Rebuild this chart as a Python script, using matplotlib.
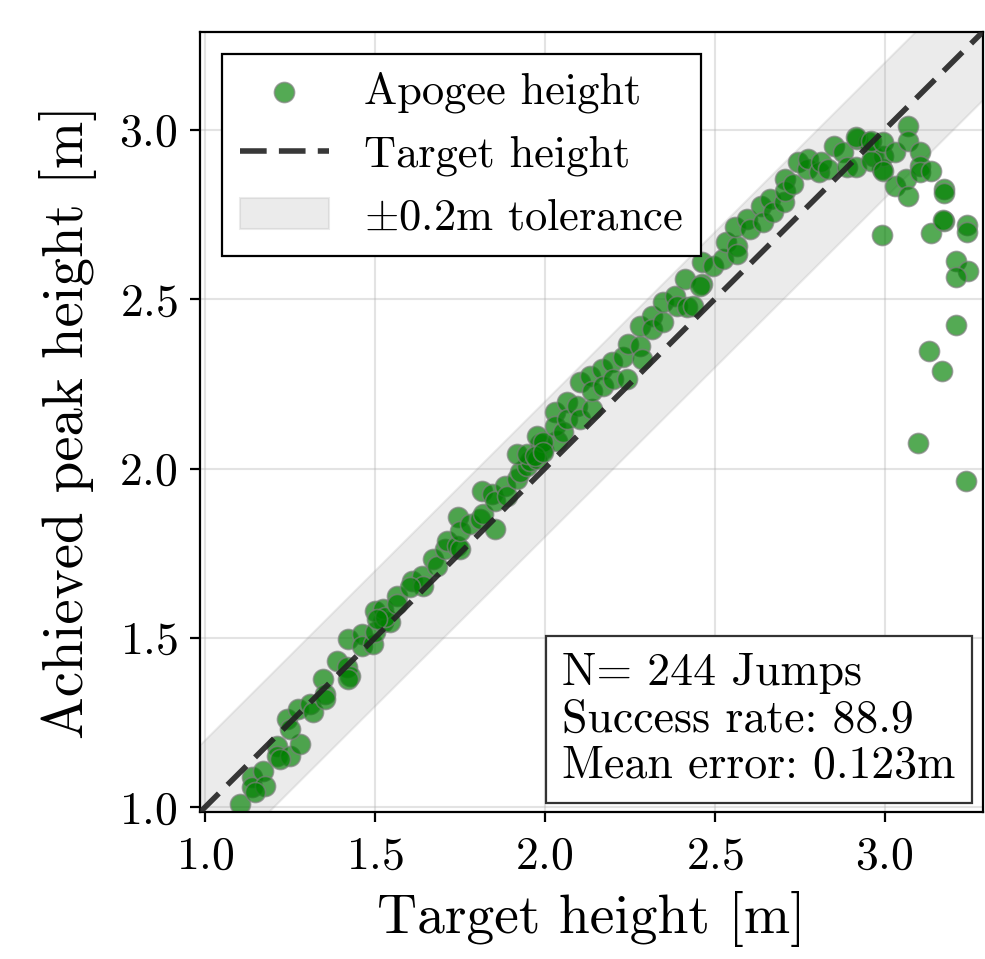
import numpy as np
import matplotlib
matplotlib.use("Agg")
import matplotlib.pyplot as plt

# computer-modern look without LaTeX
plt.rcParams['font.family'] = 'serif'
plt.rcParams['font.serif'] = ['cmr10']
plt.rcParams['mathtext.fontset'] = 'cm'
plt.rcParams['axes.formatter.use_mathtext'] = True

# target heights [m]
target = [
    1.103, 1.138, 1.138, 1.171, 1.177, 1.147,
    1.212, 1.212, 1.250, 1.280, 1.242, 1.221,
    1.274, 1.250, 1.309, 1.318,
    1.348, 1.353, 1.353,
    1.389, 1.418, 1.427, 1.421,
    1.421, 1.462, 1.462, 1.495, 1.501, 1.524, 1.545,
    1.501, 1.524, 1.530, 1.566, 1.566, 1.507,
    1.610, 1.639, 1.642, 1.604,
    1.672, 1.683, 1.707, 1.713, 1.742, 1.751,
    1.745, 1.751, 1.781, 1.810, 1.854, 1.819,
    1.816, 1.845, 1.854, 1.884, 1.890,
    1.919, 1.928, 1.948, 1.957,
    1.919, 1.948, 1.987, 1.996, 2.037, 1.978,
    1.978, 1.996, 1.972, 1.996,
    2.031, 2.031, 2.054, 2.066, 2.066, 2.096, 2.105, 2.140,
    2.105, 2.134, 2.140, 2.169, 2.172, 2.199, 2.202, 2.231, 2.243,
    2.246, 2.281, 2.287, 2.281, 2.317, 2.317, 2.349,
    2.349, 2.384, 2.390, 2.420, 2.414, 2.464,
    2.437, 2.458, 2.464, 2.496, 2.526, 2.532, 2.567, 2.567,
    2.561, 2.596, 2.605, 2.635, 2.641, 2.664, 2.673,
    2.703, 2.708, 2.708, 2.732, 2.744, 2.773, 2.776, 2.806, 2.812,
    2.835, 2.850, 2.879, 2.891, 2.920, 2.950, 2.965, 2.994, 2.997,
    2.915, 2.915, 2.959, 2.959, 2.997, 2.997,
    3.032, 3.032, 3.062, 3.068, 3.068, 3.068,
    3.103, 3.103, 3.103, 3.138, 3.174, 3.174,
    3.138, 3.174, 3.171, 3.244, 3.244,
    3.209, 3.247, 3.209,
    2.994, 3.100, 3.132, 3.168, 3.209, 3.241,
]

# achieved apogee heights [m]
apogee = [
    1.009, 1.089, 1.059, 1.106, 1.062, 1.044,
    1.180, 1.151, 1.151, 1.186, 1.260, 1.142,
    1.290, 1.230, 1.304, 1.281,
    1.378, 1.334, 1.319,
    1.431, 1.414, 1.387, 1.378,
    1.496, 1.511, 1.476, 1.482, 1.517, 1.547, 1.547,
    1.579, 1.585, 1.561, 1.623, 1.600, 1.555,
    1.668, 1.682, 1.653, 1.650,
    1.733, 1.712, 1.762, 1.786, 1.771, 1.762,
    1.857, 1.815, 1.836, 1.851, 1.821, 1.866,
    1.934, 1.925, 1.904, 1.948, 1.919,
    1.969, 1.990, 2.007, 2.022,
    2.043, 2.043, 2.072, 2.058, 2.081, 2.028,
    2.096, 2.078, 2.037, 2.049,
    2.167, 2.126, 2.108, 2.196, 2.146, 2.185, 2.146, 2.176,
    2.256, 2.273, 2.229, 2.294, 2.244, 2.315, 2.264, 2.329, 2.264,
    2.368, 2.362, 2.324, 2.421, 2.451, 2.412, 2.433,
    2.492, 2.510, 2.480, 2.477, 2.560, 2.545,
    2.480, 2.539, 2.610, 2.598, 2.619, 2.669, 2.657, 2.634,
    2.713, 2.737, 2.708, 2.776, 2.728, 2.796, 2.758,
    2.787, 2.855, 2.820, 2.840, 2.905, 2.885, 2.914, 2.876, 2.905,
    2.885, 2.953, 2.935, 2.891, 2.973, 2.965, 2.923, 2.885, 2.923,
    2.979, 2.891, 2.908, 2.967, 2.879, 2.965,
    2.935, 2.835, 2.855, 3.012, 2.967, 2.805,
    2.935, 2.894, 2.876, 2.879, 2.826, 2.814,
    2.696, 2.731, 2.734, 2.719, 2.699,
    2.613, 2.583, 2.565,
    2.690, 2.075, 2.347, 2.288, 2.424, 1.963,
]

n_jumps = 244
success_rate = 88.9
mean_error = 0.123
tolerance = 0.2
lims = (0.985, 3.29)

fig = plt.figure(figsize=(9.85, 9.59), dpi=100)
ax = fig.add_axes([0.203, 0.153, 0.795, 0.814])

xs = np.linspace(lims[0], lims[1], 50)
ax.fill_between(xs, xs - tolerance, xs + tolerance, color='#9e9e9e', alpha=0.2,
                linewidth=1.5, label=r'$\pm$0.2m tolerance', zorder=1)
ax.plot(lims, lims, color='#222222', alpha=0.9, linewidth=4,
        dashes=(4.8, 2.2), label='Target height', zorder=3)
ax.scatter(target, apogee, s=210, c='green', alpha=0.67, edgecolors='gray',
           linewidths=1.2, label='Apogee height', zorder=2)

ax.set_xlim(lims)
ax.set_ylim(lims)
ax.set_xticks([1.0, 1.5, 2.0, 2.5, 3.0])
ax.set_yticks([1.0, 1.5, 2.0, 2.5, 3.0])
ax.grid(True, color='#b0b0b0', alpha=0.35, linewidth=1.5, zorder=0)
ax.set_axisbelow(True)
for sp in ax.spines.values():
    sp.set_linewidth(1.6)
ax.tick_params(labelsize=33, width=1.6, length=7)
ax.tick_params(axis='x', pad=10)
ax.tick_params(axis='y', pad=9)

ax.set_xlabel('Target height [m]', fontsize=40, labelpad=10)
ax.set_ylabel('Achieved peak height [m]', fontsize=41, labelpad=16)

handles, labels = ax.get_legend_handles_labels()
order = [2, 1, 0]
leg = ax.legend([handles[i] for i in order], [labels[i] for i in order],
                loc='upper left', fontsize=32, fancybox=False, framealpha=1,
                edgecolor='black', borderaxespad=0.5)
leg.get_frame().set_linewidth(1.6)

ax.text(0.965, 0.033,
        f'N= {n_jumps} Jumps\nSuccess rate: {success_rate}\nMean error: {mean_error}m',
        transform=ax.transAxes, ha='right', va='bottom', multialignment='left',
        fontsize=33, linespacing=1.14,
        bbox=dict(boxstyle='square,pad=0.35', facecolor='white', edgecolor='#333333',
                  linewidth=1.6), zorder=5)

fig.savefig('out.png', dpi=100)
